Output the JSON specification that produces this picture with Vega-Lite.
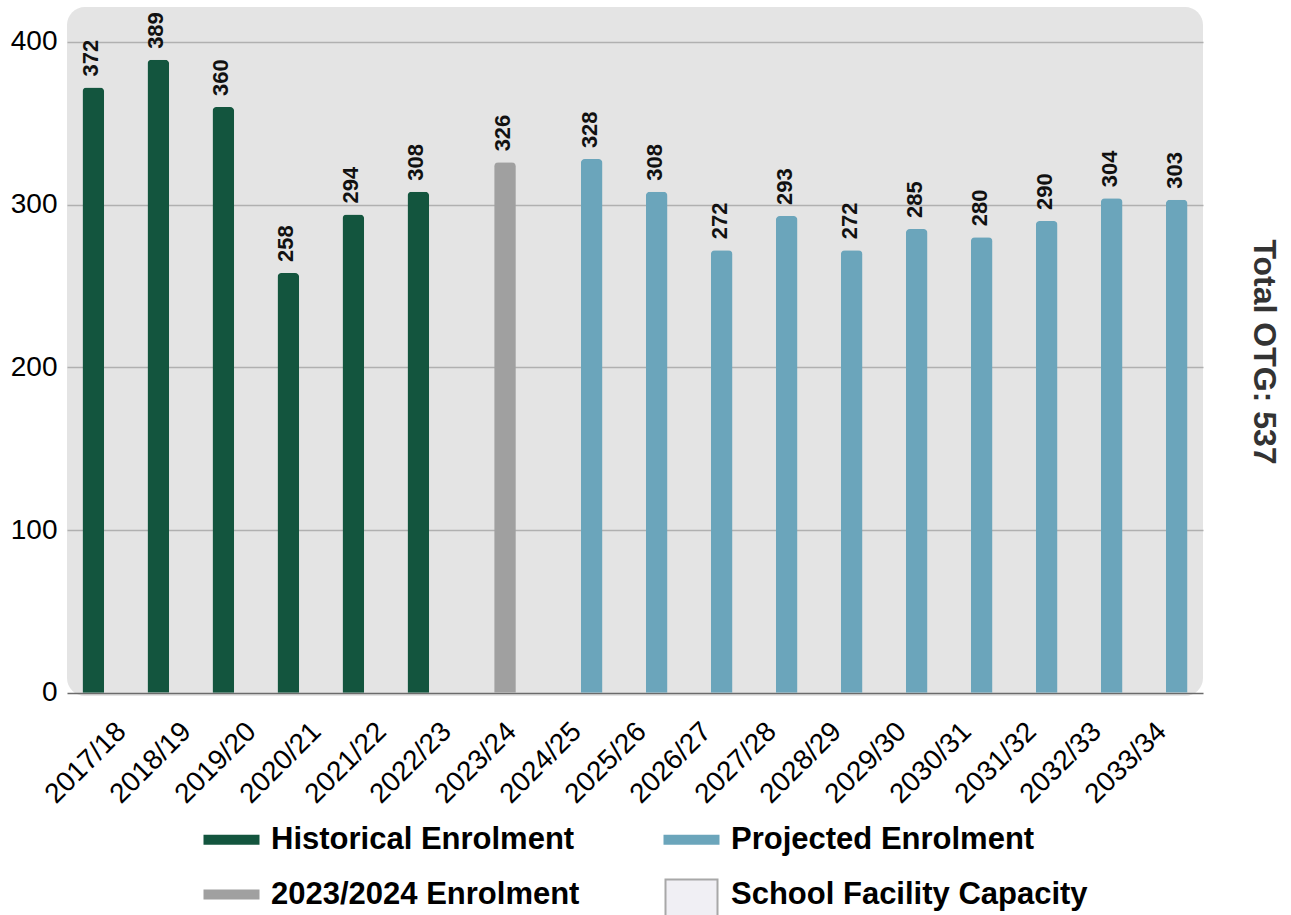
{
  "$schema": "https://vega.github.io/schema/vega-lite/v6.json",
  "width": 1136,
  "height": 689,
  "autosize": {"type": "none"},
  "padding": {"left": 67, "top": 7, "right": 88, "bottom": 219},
  "background": "white",
  "config": {
    "view": {"fill": "#e4e4e4", "stroke": null, "cornerRadius": 18},
    "font": "Liberation Sans"
  },
  "data": {
    "values": [
      {"period": "2017/18", "value": 372, "series": "Historical Enrolment"},
      {"period": "2018/19", "value": 389, "series": "Historical Enrolment"},
      {"period": "2019/20", "value": 360, "series": "Historical Enrolment"},
      {"period": "2020/21", "value": 258, "series": "Historical Enrolment"},
      {"period": "2021/22", "value": 294, "series": "Historical Enrolment"},
      {"period": "2022/23", "value": 308, "series": "Historical Enrolment"},
      {"period": "2023/24", "value": 326, "series": "2023/2024 Enrolment"},
      {"period": "2024/25", "value": 328, "series": "Projected Enrolment"},
      {"period": "2025/26", "value": 308, "series": "Projected Enrolment"},
      {"period": "2026/27", "value": 272, "series": "Projected Enrolment"},
      {"period": "2027/28", "value": 293, "series": "Projected Enrolment"},
      {"period": "2028/29", "value": 272, "series": "Projected Enrolment"},
      {"period": "2029/30", "value": 285, "series": "Projected Enrolment"},
      {"period": "2030/31", "value": 280, "series": "Projected Enrolment"},
      {"period": "2031/32", "value": 290, "series": "Projected Enrolment"},
      {"period": "2032/33", "value": 304, "series": "Projected Enrolment"},
      {"period": "2033/34", "value": 303, "series": "Projected Enrolment"}
    ]
  },
  "encoding": {
    "x": {
      "field": "period",
      "type": "nominal",
      "sort": null,
      "scale": {"paddingInner": 0, "paddingOuter": 0.238},
      "axis": {
        "title": null,
        "labelAngle": -45,
        "labelAlign": "right",
        "labelBaseline": "middle",
        "labelFontSize": 28,
        "labelFont": "Liberation Sans",
        "labelColor": "#000000",
        "labelPadding": 31,
        "labelOffset": 7,
        "ticks": false,
        "tickSize": 0,
        "domain": false,
        "grid": false
      }
    },
    "xOffset": {
      "field": "series",
      "type": "nominal",
      "scale": {
        "domain": ["Historical Enrolment", "2023/2024 Enrolment", "Projected Enrolment"],
        "paddingInner": 0,
        "paddingOuter": 0
      }
    }
  },
  "layer": [
    {
      "mark": {"type": "bar", "cornerRadiusEnd": 4},
      "encoding": {
        "y": {
          "field": "value",
          "type": "quantitative",
          "scale": {"domain": [-2, 421.5], "nice": false, "zero": false},
          "axis": {
            "title": null,
            "values": [0, 100, 200, 300, 400],
            "grid": true,
            "gridColor": {"condition": {"test": "datum.value === 0", "value": "#6b6b6b"}, "value": "#b0b0b0"},
            "gridWidth": 1.5,
            "domain": false,
            "ticks": false,
            "tickSize": 0,
            "labelFontSize": 28,
            "labelFont": "Liberation Sans",
            "labelColor": "#000000",
            "labelPadding": 10
          }
        },
        "color": {
          "field": "series",
          "type": "nominal",
          "scale": {
            "domain": ["Historical Enrolment", "Projected Enrolment", "2023/2024 Enrolment", "School Facility Capacity"],
            "range": ["#13553e", "#6ba5bb", "#a0a0a0", "#f0eff4"]
          },
          "legend": {
            "title": null,
            "orient": "none",
            "legendX": 149,
            "legendY": 817,
            "columns": 2,
            "direction": "horizontal",
            "columnPadding": 81,
            "rowPadding": 20,
            "padding": 0,
            "symbolType": "M-1.12,-0.2H1.12V0.2H-1.12Z",
            "symbolSize": 2500,
            "symbolOpacity": 1,
            "labelFontSize": 31,
            "labelFontWeight": "bold",
            "labelFont": "Liberation Sans",
            "labelColor": "#000000",
            "labelOffset": 24,
            "labelLimit": 0,
            "encode": {
              "symbols": {
                "update": {
                  "shape": {"signal": "datum.value === 'School Facility Capacity' ? 'M-1.04,-0.6H1.04V1.5H-1.04Z' : 'M-1.12,-0.2H1.12V0.2H-1.12Z'"},
                  "stroke": {"value": "#a8a8a8"},
                  "strokeWidth": {"signal": "datum.value === 'School Facility Capacity' ? 2 : 0"}
                }
              }
            }
          }
        }
      }
    },
    {
      "mark": {
        "type": "text",
        "angle": 270,
        "align": "left",
        "baseline": "middle",
        "dx": 11,
        "dy": -2,
        "font": "Liberation Sans",
        "fontWeight": "bold",
        "fontSize": 22,
        "color": "#111111"
      },
      "encoding": {
        "y": {
          "field": "value",
          "type": "quantitative",
          "scale": {"domain": [-2, 421.5], "nice": false, "zero": false},
          "axis": {
            "orient": "right",
            "title": "Total OTG: 537",
            "labels": false,
            "ticks": false,
            "domain": false,
            "grid": false,
            "titleFontSize": 32,
            "titleFontWeight": "bold",
            "titleFont": "Liberation Sans",
            "titleColor": "#333333",
            "titleAngle": 90,
            "titlePadding": 43
          }
        },
        "text": {"field": "value", "type": "quantitative"}
      }
    }
  ],
  "resolve": {"scale": {"y": "independent"}}
}
